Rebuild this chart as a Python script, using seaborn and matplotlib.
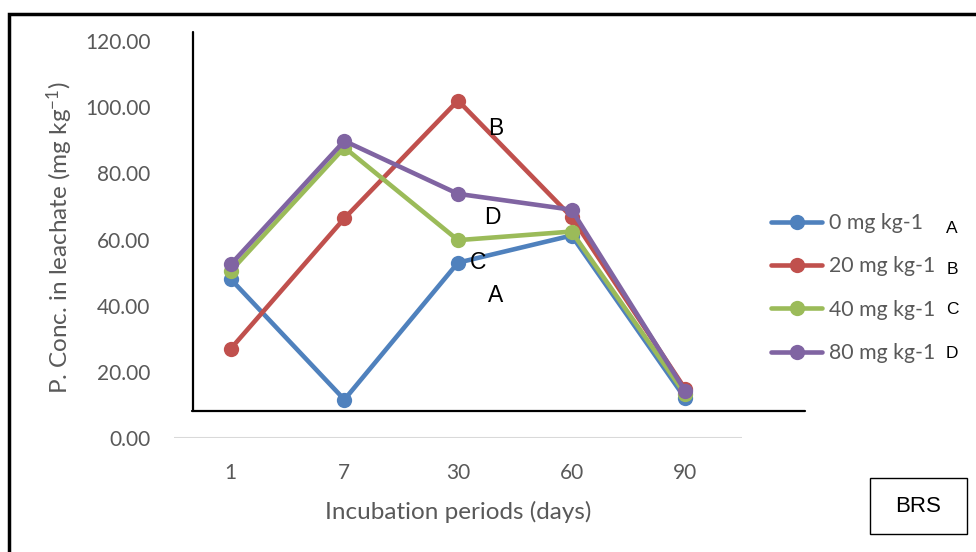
import matplotlib
matplotlib.use("Agg")
import matplotlib.pyplot as plt
import seaborn as sns
import pandas as pd
from matplotlib.lines import Line2D
from matplotlib.patches import Rectangle

periods = ["1", "7", "30", "60", "90"]
series_names = ["0 mg kg-1", "20 mg kg-1", "40 mg kg-1", "80 mg kg-1"]
vals_0 = [48.0, 11.6, 53.0, 61.2, 12.0]
vals_20 = [27.0, 66.4, 102.0, 66.8, 14.8]
vals_40 = [50.5, 87.8, 59.8, 62.4, 13.2]
vals_80 = [52.5, 89.8, 73.8, 69.0, 14.2]
legend_letters = ["A", "B", "C", "D"]
point_letters = [("B", 2.33, 93.5), ("D", 2.30, 66.5), ("C", 2.18, 53.0), ("A", 2.33, 43.0)]
colors = ["#4F81BD", "#C0504D", "#9BBB59", "#8064A2"]

rows = []
for name, vals in zip(series_names, [vals_0, vals_20, vals_40, vals_80]):
    for p, v in zip(periods, vals):
        rows.append({"period": p, "value": v, "series": name})
df = pd.DataFrame(rows)

sns.set_theme(style="white")
plt.rcParams["font.family"] = ["Lato", "DejaVu Sans"]
plt.rcParams["mathtext.default"] = "regular"

W, H = 976, 552
fig = plt.figure(figsize=(W / 100, H / 100), dpi=100)
ax = fig.add_axes([174 / W, 1 - 438 / H, (742 - 174) / W, (438 - 41) / H])

sns.lineplot(data=df, x="period", y="value", hue="series", palette=colors,
             marker="o", markersize=11, markeredgewidth=0, linewidth=3.3,
             sort=False, ax=ax, legend=False)

ax.set_xlim(-0.5, 4.5)
ax.set_ylim(0, 120)
ax.set_yticks([0, 20, 40, 60, 80, 100, 120])
ax.set_yticklabels([f"{t:.2f}" for t in [0, 20, 40, 60, 80, 100, 120]])
for s in ax.spines.values():
    s.set_visible(False)
ax.axhline(0, color="#D9D9D9", lw=1.5, zorder=0)
ax.tick_params(axis="both", length=0, labelsize=15, labelcolor="#595959")
ax.tick_params(axis="y", pad=17)
ax.tick_params(axis="x", pad=18)
ax.set_xlabel("Incubation periods (days)", fontsize=17.5, color="#595959")
ax.set_ylabel("P. Conc. in leachate (mg kg$^{-1}$)", fontsize=17.5, color="#595959")
ax.xaxis.set_label_coords(0.5, (40 - 114) / 397)
ax.xaxis.label.set_va("center")
ax.yaxis.set_label_coords((60 - 174) / 568, (552 - 238 - 114) / 397)
ax.yaxis.label.set_va("center")

for letter, x, y in point_letters:
    ax.text(x, y, letter, fontsize=16.5, color="black", ha="center", va="center",
            family=["Liberation Sans", "DejaVu Sans"])

handles = [Line2D([0], [0], color=c, lw=3.3, marker="o", markersize=11, markeredgewidth=0)
           for c in colors]
leg = fig.legend(handles, series_names, loc="center left",
                 bbox_to_anchor=(771 / W, 1 - 288 / H), frameon=False,
                 fontsize=15.3, handlelength=2.4, handletextpad=0.35,
                 labelspacing=1.1, borderpad=0, borderaxespad=0)
for t in leg.get_texts():
    t.set_color("#595959")

for letter, yy in zip(legend_letters, [228, 269, 310, 354]):
    fig.text(952 / W, 1 - yy / H, letter, fontsize=12.5, color="black",
             ha="center", va="center", family=["Liberation Sans", "DejaVu Sans"])

# decorative drawn lines
fig.add_artist(Line2D([193 / W, 193 / W], [1 - 32 / H, 1 - 411 / H], color="black", lw=1.6))
fig.add_artist(Line2D([192 / W, 805 / W], [1 - 410.5 / H, 1 - 410.5 / H], color="black", lw=1.6))

# figure border (open to right and bottom)
fig.add_artist(Rectangle((9 / W, -0.1), 1.2, 1.1 - 14 / H, fill=False,
                         edgecolor="black", lw=2.5, transform=fig.transFigure))

# BRS box
fig.add_artist(Rectangle((870 / W, 1 - 534 / H), 97 / W, 56 / H, fill=False,
                         edgecolor="black", lw=1.0, transform=fig.transFigure))
fig.text(918 / W, 1 - 507 / H, "BRS", fontsize=16, color="black", ha="center", va="center",
         family=["Liberation Sans", "DejaVu Sans"])

fig.savefig("out.png", dpi=100)
